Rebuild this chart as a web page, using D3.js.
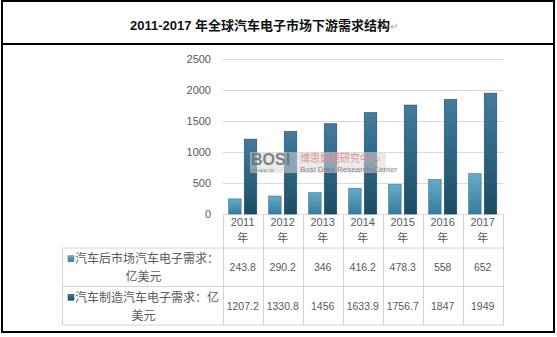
<!DOCTYPE html>
<html><head><meta charset="utf-8">
<script src="https://cdn.jsdelivr.net/npm/d3@7"></script>
<style>
html,body{margin:0;padding:0;background:#fff;}
svg{display:block;}
</style></head>
<body>
<svg id="chart" width="557" height="337"></svg>
<script>
const title = "2011-2017 年全球汽车电子市场下游需求结构";
const categories = ["2011","2012","2013","2014","2015","2016","2017"];
const catSuffix = "年";
const seriesNames = ["汽车后市场汽车电子需求：亿美元","汽车制造汽车电子需求：亿美元"];
const seriesLines = [["汽车后市场汽车电子需求：","亿美元"],["汽车制造汽车电子需求：亿","美元"]];
const aftermarket = [243.8, 290.2, 346, 416.2, 478.3, 558, 652];
const manufacturing = [1207.2, 1330.8, 1456, 1633.9, 1756.7, 1847, 1949];
const valueLabels = [["243.8","290.2","346","416.2","478.3","558","652"],
                     ["1207.2","1330.8","1456","1633.9","1756.7","1847","1949"]];
const yTicks = [0,500,1000,1500,2000,2500];

const svg = d3.select("#chart");
const digitFont = "'Liberation Sans', Arial, sans-serif";
const cjkFont = "'Liberation Sans', 'Noto Sans CJK SC', sans-serif";
const cjk = "'Noto Sans CJK SC', sans-serif";

// gradients
const defs = svg.append("defs");
const grads = [["g0","#66abcb","#3b7b9b"],["g1","#437c9f","#1b4c65"]];
grads.forEach(([id,c1,c2])=>{
  const g = defs.append("linearGradient").attr("id",id).attr("x1",0).attr("y1",0).attr("x2",0).attr("y2",1);
  g.append("stop").attr("offset","0%").attr("stop-color",c1);
  g.append("stop").attr("offset","100%").attr("stop-color",c2);
});
const strokes = ["#3d7896","#1a4860"];

// outer frame
svg.append("rect").attr("x",2).attr("y",1).attr("width",552).attr("height",331)
  .attr("fill","none").attr("stroke","#000").attr("stroke-width",2);
svg.append("line").attr("x1",2).attr("x2",554).attr("y1",44).attr("y2",44)
  .attr("stroke","#000").attr("stroke-width",2);

// title
const t = svg.append("text").attr("x",130).attr("y",30)
  .attr("font-family",cjkFont).attr("font-weight","bold").attr("font-size",13).attr("fill","#111");
t.append("tspan").text(title);
t.append("tspan").attr("font-weight","normal").attr("fill","#aaa").attr("font-size",10).text("↵");

// scales
const x0 = d3.scaleBand().domain(categories).range([222.7,502.7]).paddingInner(0).paddingOuter(0);
const x1 = d3.scaleBand().domain([0,1]).range([0,x0.bandwidth()]).paddingInner(0.2).paddingOuter(0.38);
const y = d3.scaleLinear().domain([0,2500]).range([214,59]);

// gridlines
svg.append("g").selectAll("line").data(yTicks).join("line")
  .attr("x1",222.7).attr("x2",503.5)
  .attr("y1",d=>Math.round(y(d))+0.5).attr("y2",d=>Math.round(y(d))+0.5)
  .attr("stroke","#d9d9d9").attr("stroke-width",1);

// y axis labels
const yAxis = d3.axisLeft(y).tickValues(yTicks).tickFormat(d3.format("d")).tickSize(0).tickPadding(0);
const ya = svg.append("g").attr("transform","translate(211,0)").call(yAxis);
ya.select(".domain").remove();
ya.selectAll("text").attr("font-family",digitFont).attr("font-size",11).attr("fill","#595959");

// bars
const seriesData = [aftermarket, manufacturing];
seriesData.forEach((vals,si)=>{
  svg.append("g").selectAll("rect").data(vals).join("rect")
    .attr("x",(d,i)=>x0(categories[i])+x1(si))
    .attr("width",x1.bandwidth())
    .attr("y",d=>y(d))
    .attr("height",d=>y(0)-y(d))
    .attr("fill",`url(#g${si})`)
    .attr("stroke",strokes[si]).attr("stroke-width",0.6);
});

// watermark
const wm = svg.append("g");
wm.append("rect").attr("x",250).attr("y",152).attr("width",136).attr("height",21)
  .attr("fill","#d8d8d8").attr("opacity",0.55);
wm.append("text").attr("x",251).attr("y",165).text("BOSI")
  .attr("font-family",digitFont).attr("font-weight","bold").attr("font-size",16)
  .attr("fill","#6e6e6e").attr("opacity",0.85);
wm.append("text").attr("x",251).attr("y",172.3).text("BOSIDATA.COM")
  .attr("font-family",digitFont).attr("font-size",3).attr("fill","#777");
wm.append("text").attr("x",300).attr("y",161.5).text("博思数据研究中心")
  .attr("font-family",cjk).attr("font-size",10)
  .attr("fill","#e28b8b").attr("opacity",0.9);
wm.append("text").attr("x",300).attr("y",172).text("Bosi Data Research Center")
  .attr("font-family",digitFont).attr("font-size",8).attr("fill","#7a7a7a").attr("opacity",0.9);

// data table
const lineC = "#d4d4d4";
const tb = svg.append("g").attr("stroke",lineC).attr("stroke-width",1);
const xL = 62.5, xR = 502.5, yT = 214, yH = 248, yM = 286.5, yB = 325;
const bounds = categories.map(c=>x0(c)).concat([x0.range()[1]]);
tb.selectAll("line.v").data(bounds).join("line")
  .attr("x1",d=>Math.round(d)+0.5).attr("x2",d=>Math.round(d)+0.5)
  .attr("y1",yT).attr("y2",yB);
tb.append("line").attr("x1",xL).attr("x2",xL).attr("y1",yH).attr("y2",yB);
[yH,yM,yB].forEach(yy=>tb.append("line").attr("x1",xL).attr("x2",xR+1).attr("y1",yy).attr("y2",yy));

// header cells
categories.forEach(c=>{
  const cx = x0(c)+x0.bandwidth()/2;
  svg.append("text").attr("x",cx).attr("y",226).attr("text-anchor","middle")
    .attr("font-family",digitFont).attr("font-size",11).attr("fill","#595959").text(c);
  svg.append("text").attr("x",cx).attr("y",242).attr("text-anchor","middle")
    .attr("font-family",cjk).attr("font-size",11).attr("fill","#595959").text(catSuffix);
});

// legend cells & values
const rowMid = [(yH+yM)/2, (yM+yB)/2];
seriesLines.forEach((lines,si)=>{
  const cy = rowMid[si];
  const l1y = cy-8, l2y = cy+10;
  const tx = svg.append("text").attr("x",147).attr("y",l1y+4.2).attr("text-anchor","middle")
    .attr("font-family",cjk).attr("font-size",12).attr("fill","#595959");
  tx.text(lines[0]);
  const bb = tx.node().getBBox();
  svg.append("rect").attr("x",bb.x-7).attr("y",l1y-3.5).attr("width",6).attr("height",6)
    .attr("fill",`url(#g${si})`).attr("stroke",strokes[si]).attr("stroke-width",0.5);
  svg.append("text").attr("x",143.5).attr("y",l2y+4.2).attr("text-anchor","middle")
    .attr("font-family",cjk).attr("font-size",12).attr("fill","#595959").text(lines[1]);
  valueLabels[si].forEach((v,i)=>{
    svg.append("text").attr("x",x0(categories[i])+x0.bandwidth()/2).attr("y",cy+4)
      .attr("text-anchor","middle").attr("font-family",digitFont).attr("font-size",10.5)
      .attr("fill","#595959").text(v);
  });
});
</script>
</body></html>
